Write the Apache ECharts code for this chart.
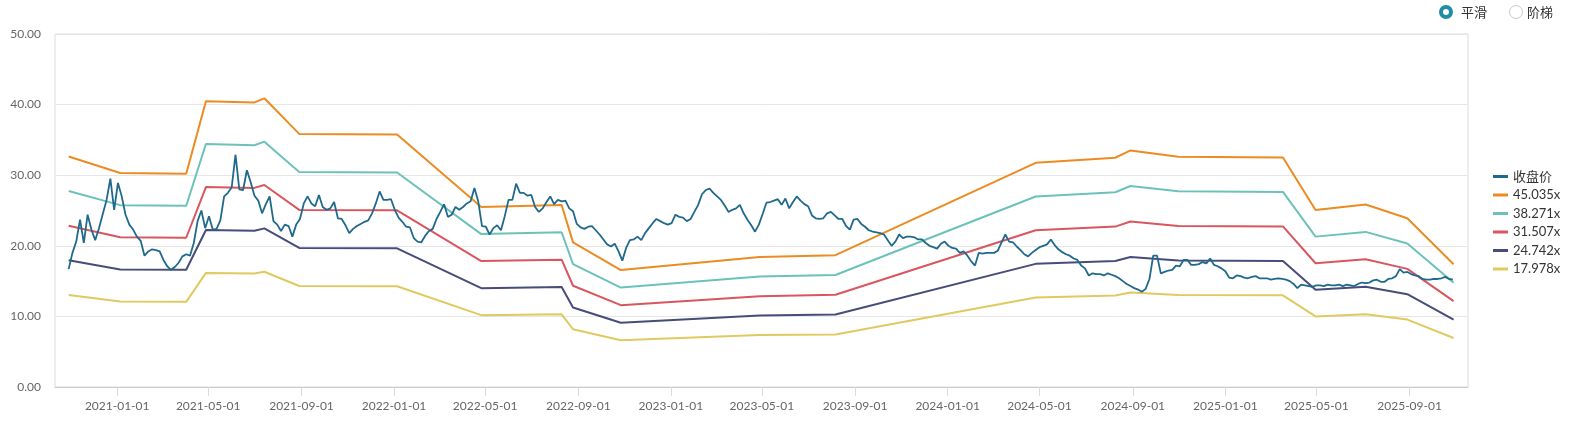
<!DOCTYPE html>
<html><head><meta charset="utf-8">
<script src="https://cdn.jsdelivr.net/npm/echarts@6/dist/echarts.min.js"></script>
<style>
html,body{margin:0;padding:0;background:#fff;}
#wrap{position:relative;width:1578px;height:428px;overflow:hidden;}
#chart{position:absolute;left:0;top:0;width:1578px;height:428px;}
.radio{position:absolute;box-sizing:border-box;border-radius:50%;background:#fff;}
.lbl{position:absolute;font:13px "Noto Sans CJK SC",sans-serif;color:#333;line-height:16px;}
</style>
</head><body>
<div id="wrap">
<div id="chart"></div>
<div class="radio" style="left:1439px;top:5px;width:14px;height:14px;border:4px solid #1e8ea6;"></div>
<div class="lbl" style="left:1461px;top:4px;">平滑</div>
<div class="radio" style="left:1509px;top:5px;width:14px;height:14px;border:1px solid #c8c8c8;"></div>
<div class="lbl" style="left:1527px;top:4px;">阶梯</div>
</div>
<script>
// ---- data ----
const seriesNames = ['收盘价', '45.035x', '38.271x', '31.507x', '24.742x', '17.978x'];
const xTickLabels = ['2021-01-01','2021-05-01','2021-09-01','2022-01-01','2022-05-01','2022-09-01','2023-01-01','2023-05-01','2023-09-01','2024-01-01','2024-05-01','2024-09-01','2025-01-01','2025-05-01','2025-09-01'];
const xRange = ['2020-10-11', '2025-11-17'];

// closing price, one reading every 5 calendar days starting at priceStart
const priceStart = '2020-10-29';
const priceStepDays = 5;
const priceValues = [
16.7,19.0,20.6,23.7,20.4,24.4,22.3,20.8,22.5,24.5,
26.5,29.5,25.1,28.9,27.0,24.4,23.0,22.3,21.3,20.7,
18.6,19.2,19.5,19.4,19.2,18.0,17.1,16.6,17.0,17.6,
18.5,18.8,18.6,20.4,23.5,25.0,22.5,24.2,22.3,22.4,
23.6,27.0,27.5,28.3,32.9,28.0,27.9,30.7,29.0,27.1,
26.4,24.6,25.9,27.0,23.5,23.0,22.1,23.0,22.8,21.3,
23.0,23.8,26.0,27.0,26.0,25.6,27.2,25.5,25.1,25.3,
26.2,23.9,23.8,22.9,21.8,22.4,22.8,23.1,23.4,23.6,
24.6,26.0,27.7,26.5,26.5,26.6,25.1,24.0,23.4,22.7,
22.6,21.1,20.6,20.5,21.4,22.1,22.4,23.8,24.8,25.9,
24.1,24.4,25.5,25.1,25.5,26.0,26.3,28.2,26.3,22.8,
22.7,21.6,22.5,22.9,22.2,24.2,26.5,26.5,28.8,27.5,
27.5,27.1,27.2,25.5,24.8,25.3,26.2,27.0,25.9,26.5,
26.3,26.4,25.3,24.9,23.1,22.6,22.4,22.7,22.8,22.2,
21.6,20.9,20.2,19.9,20.3,19.2,17.9,19.7,20.8,20.9,
21.3,20.8,21.8,22.5,23.2,23.8,23.5,23.2,23.0,23.2,
24.4,24.1,24.0,23.5,23.8,24.8,25.8,27.3,27.9,28.1,
27.5,27.0,26.5,25.7,24.8,25.1,25.3,25.8,24.6,23.7,
22.9,22.0,23.0,24.5,26.1,26.2,26.4,26.6,25.8,26.7,
25.3,26.2,27.0,26.4,25.9,25.6,24.3,23.9,23.8,23.9,
24.6,24.8,24.3,23.8,23.8,22.8,22.3,23.7,23.8,23.1,
22.7,22.2,22.0,21.9,21.8,21.6,20.8,20.0,20.6,21.6,
21.1,21.3,21.3,21.2,20.9,20.9,20.4,20.0,19.8,19.6,
20.3,20.6,20.0,19.7,19.6,19.0,19.2,18.6,17.8,17.2,
19.0,18.9,19.0,19.0,19.0,19.3,20.5,21.6,20.6,20.5,
19.9,19.4,18.8,18.5,19.0,19.4,19.8,20.0,20.2,20.9,
20.1,19.5,19.1,18.8,18.6,18.2,18.0,17.2,16.8,15.8,
16.1,16.0,16.0,15.8,16.1,15.9,15.7,15.4,15.0,14.6,
14.3,14.0,13.8,13.5,13.9,15.3,18.6,18.6,16.1,16.3,
16.5,16.6,17.2,17.1,18.0,18.0,17.3,17.3,17.4,17.7,
17.5,18.2,17.3,17.1,16.8,16.4,15.5,15.4,15.8,15.7,
15.5,15.4,15.6,15.7,15.4,15.4,15.4,15.2,15.3,15.4,
15.3,15.2,15.0,14.6,14.0,14.5,14.4,14.3,14.2,14.4,
14.4,14.3,14.5,14.4,14.4,14.5,14.3,14.5,14.4,14.3,
14.6,14.8,14.7,14.8,15.1,15.2,14.9,14.9,15.3,15.4,
15.7,16.7,16.2,16.3,16.0,15.8,15.7,15.3,15.2,15.2,
15.3,15.3,15.4,15.6,15.3,15.2
];

// PE band vertices
const bandDates = ['2020-10-29','2021-01-05','2021-04-02','2021-04-28','2021-07-01','2021-07-14','2021-08-29','2022-01-05','2022-04-26','2022-08-10','2022-08-25','2022-10-27','2023-04-28','2023-08-06','2024-04-26','2024-08-09','2024-08-29','2024-10-31','2025-03-18','2025-04-30','2025-07-05','2025-08-29','2025-10-29'];
const band45 = [32.65,30.31,30.22,40.49,40.31,40.89,35.85,35.76,25.49,25.79,20.49,16.57,18.40,18.67,31.75,32.47,33.51,32.61,32.52,25.06,25.85,23.91,17.38];
const band38 = [27.75,25.76,25.68,34.41,34.25,34.75,30.46,30.39,21.66,21.92,17.41,14.08,15.64,15.86,26.98,27.59,28.47,27.71,27.63,21.30,21.97,20.32,14.77];
const band31 = [22.84,21.20,21.14,28.32,28.20,28.61,25.08,25.02,17.83,18.04,14.34,11.59,12.87,13.06,22.21,22.72,23.44,22.81,22.75,17.53,18.09,16.73,12.16];
const band24 = [17.94,16.65,16.60,22.24,22.14,22.47,19.69,19.64,14.00,14.17,11.26,9.11,10.11,10.26,17.44,17.84,18.41,17.91,17.86,13.77,14.20,13.14,9.55];
const band17 = [13.03,12.10,12.06,16.16,16.09,16.32,14.31,14.27,10.18,10.30,8.18,6.62,7.35,7.45,12.67,12.96,13.38,13.02,12.98,10.00,10.32,9.55,6.94];

// ---- build ----
function ts(s){ const p = s.split('-').map(Number); return new Date(p[0], p[1]-1, p[2]).getTime(); }
function fmt(v){ const d = new Date(v); const z = n => (n<10?'0':'')+n; return d.getFullYear()+'-'+z(d.getMonth()+1)+'-'+z(d.getDate()); }
const p0 = priceStart.split('-').map(Number);
const priceData = priceValues.map((v,i) => [new Date(p0[0], p0[1]-1, p0[2] + i*priceStepDays).getTime(), v]);
const bandSeries = [band45, band38, band31, band24, band17].map(arr => arr.map((v,i) => [ts(bandDates[i]), v]));
const tickValues = xTickLabels.map(ts);

const colors = ['#1f698c', '#ec8b22', '#6cc2ba', '#d9565f', '#474c79', '#e0c95f'];
const font = 'Lato, "Noto Sans CJK SC", sans-serif';

const chart = echarts.init(document.getElementById('chart'));
chart.setOption({
  animation: false,
  color: colors,
  grid: { left: 55, right: 110, top: 34, bottom: 41, show: true, borderColor: '#dcdcdc', borderWidth: 1 },
  legend: {
    orient: 'vertical', left: 1488, top: 165, itemWidth: 15, itemHeight: 3, itemGap: 5.5,
    icon: 'rect',
    data: seriesNames,
    textStyle: { fontSize: 13, color: '#333', fontFamily: font, lineHeight: 13 }
  },
  xAxis: {
    type: 'value', min: ts(xRange[0]), max: ts(xRange[1]), scale: true,
    axisLine: { lineStyle: { color: '#cccccc' } },
    axisTick: { show: true, length: 9, lineStyle: { color: '#dcdcdc' }, customValues: tickValues },
    axisLabel: { color: '#666', fontSize: 12, fontFamily: font, margin: 13, customValues: tickValues, formatter: v => fmt(v) },
    splitLine: { show: false }
  },
  yAxis: {
    type: 'value', min: 0, max: 50, interval: 10,
    axisLine: { show: false }, axisTick: { show: false },
    axisLabel: { color: '#666', fontSize: 12, fontFamily: font, margin: 14, formatter: v => v.toFixed(2) },
    splitLine: { lineStyle: { color: '#e6e6e6' } }
  },
  series: [
    { name: seriesNames[0], type: 'line', data: priceData, symbol: 'none', z: 10, lineStyle: { width: 1.8, color: colors[0] } }
  ].concat(bandSeries.map((d, i) => ({
    name: seriesNames[i+1], type: 'line', data: d, symbol: 'none', z: 5,
    lineStyle: { width: 2, color: colors[i+1] }
  })))
});
</script>
</body></html>
